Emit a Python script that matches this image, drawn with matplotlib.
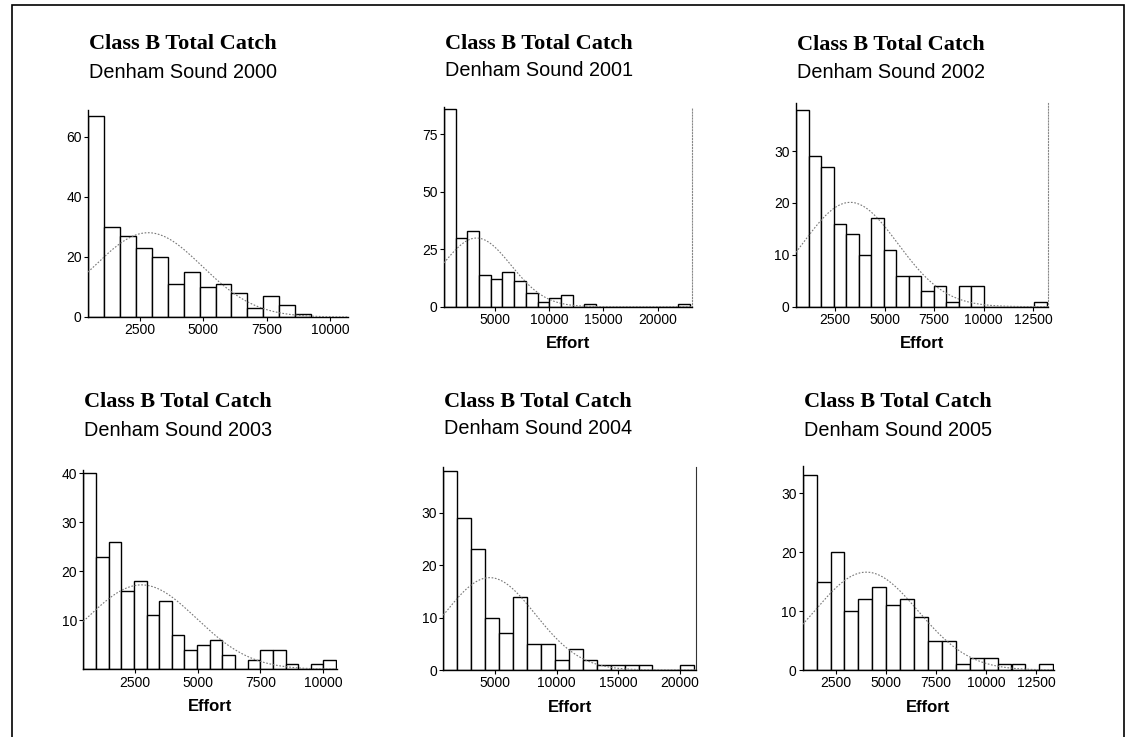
import numpy as np
import matplotlib.pyplot as plt
from matplotlib.patches import Rectangle

# Class B total catch effort histograms, Denham Sound 2000-2005
years = [2000, 2001, 2002, 2003, 2004, 2005]

# histogram bins: first edge and bin width (effort units)
bin_starts = [458, 350, 534, 439, 810, 835]
bin_widths = [628, 1075, 632, 504, 1130, 696]

counts_2000 = [67, 30, 27, 23, 20, 11, 15, 10, 11, 8, 3, 7, 4, 1]
counts_2001 = [86, 30, 33, 14, 12, 15, 11, 6, 2, 4, 5, 0, 1, 0, 0, 0, 0, 0, 0, 0, 1]
counts_2002 = [38, 29, 27, 16, 14, 10, 17, 11, 6, 6, 3, 4, 1, 4, 4, 0, 0, 0, 0, 1]
counts_2003 = [40, 23, 26, 16, 18, 11, 14, 7, 4, 5, 6, 3, 0, 2, 4, 4, 1, 0, 1, 2]
counts_2004 = [38, 29, 23, 10, 7, 14, 5, 5, 2, 4, 2, 1, 1, 1, 1, 0, 0, 1]
counts_2005 = [33, 15, 20, 10, 12, 14, 11, 12, 9, 5, 5, 1, 2, 2, 1, 1, 0, 1]
counts = [counts_2000, counts_2001, counts_2002, counts_2003, counts_2004, counts_2005]

x_ticks = [
    [2500, 5000, 7500, 10000],
    [5000, 10000, 15000, 20000],
    [2500, 5000, 7500, 10000, 12500],
    [2500, 5000, 7500, 10000],
    [5000, 10000, 15000, 20000],
    [2500, 5000, 7500, 10000, 12500],
]
y_ticks = [
    [0, 20, 40, 60],
    [0, 25, 50, 75],
    [0, 10, 20, 30],
    [10, 20, 30, 40],
    [0, 10, 20, 30],
    [0, 10, 20, 30],
]
show_xlabel = [False, True, True, True, True, True]

# layout in pixels: (left, top, right, bottom) of each plot area
W, H = 1130, 737
boxes = [
    (88, 110, 348, 317),
    (444, 106.7, 692, 306.7),
    (796, 103.3, 1048, 306.7),
    (83.3, 470, 336.7, 669.3),
    (443.3, 466.7, 696, 670),
    (802.7, 466, 1054, 670),
]
title_rows = [(44, 73), (44, 71), (45, 73), (402, 431), (402, 428), (402, 430)]
x_max = [10700, 23140, 13240, 10542, 21289, 13400]
y_max = [69, 87, 39.2, 40.7, 38.8, 34.6]
right_frame = [None, ':', ':', None, '-', None]

fig = plt.figure(figsize=(W / 100, H / 100), dpi=100)
fig.patch.set_facecolor('white')

for i, year in enumerate(years):
    left, top, right, bottom = boxes[i]
    ax = fig.add_axes([left / W, 1 - bottom / H, (right - left) / W, (bottom - top) / H])
    c = np.array(counts[i], dtype=float)
    w = bin_widths[i]
    edges = bin_starts[i] + w * np.arange(len(c) + 1)
    centers = edges[:-1] + w / 2

    ax.bar(edges[:-1], c, width=w, align='edge', color='white',
           edgecolor='black', linewidth=1.0, zorder=2)

    # normal curve fitted to the binned data
    n = c.sum()
    mean = (c * centers).sum() / n
    sd = np.sqrt((c * (centers - mean) ** 2).sum() / (n - 1))
    xs = np.linspace(bin_starts[i], x_max[i], 400)
    ys = n * w * np.exp(-0.5 * ((xs - mean) / sd) ** 2) / (sd * np.sqrt(2 * np.pi))
    ax.plot(xs, ys, color='#777777', lw=0.8, ls=(0, (1.5, 1.5)), zorder=3)

    ax.set_xlim(bin_starts[i], x_max[i])
    ax.set_ylim(0, y_max[i])
    ax.set_xticks(x_ticks[i])
    ax.set_yticks(y_ticks[i])
    ax.tick_params(direction='out', length=3, width=0.8, labelsize=10, pad=1.5)
    for lab in ax.get_xticklabels() + ax.get_yticklabels():
        lab.set_fontfamily('Liberation Sans')

    for s in ['left', 'bottom']:
        ax.spines[s].set_linewidth(1.0)
    ax.spines['top'].set_visible(False)
    if right_frame[i] is None:
        ax.spines['right'].set_visible(False)
    else:
        ax.spines['right'].set_linestyle(right_frame[i])
        ax.spines['right'].set_color('#888888' if right_frame[i] == ':' else '#333333')
        ax.spines['right'].set_linewidth(0.8)
    ax.set_facecolor('none')

    y1, y2 = title_rows[i]
    fig.text((left + 1) / W, 1 - y1 / H, 'Class B Total Catch',
             fontfamily='Liberation Serif', fontweight='bold', fontsize=16,
             ha='left', va='center')
    fig.text((left + 1) / W, 1 - y2 / H, 'Denham Sound %d' % year,
             fontfamily='Liberation Sans', fontsize=14.3, ha='left', va='center')

    if show_xlabel[i]:
        fig.text((left + right) / 2 / W, 1 - (bottom + 37) / H, 'Effort',
                 fontfamily='Liberation Sans', fontweight='bold', fontsize=12,
                 ha='center', va='center')

# outer frame
fig.add_artist(Rectangle((12 / W, -0.01), (1124 - 12) / W, 1 - 5 / H + 0.01,
                         transform=fig.transFigure, fill=False,
                         edgecolor='black', linewidth=1.2))

fig.savefig('out.png', dpi=100)
